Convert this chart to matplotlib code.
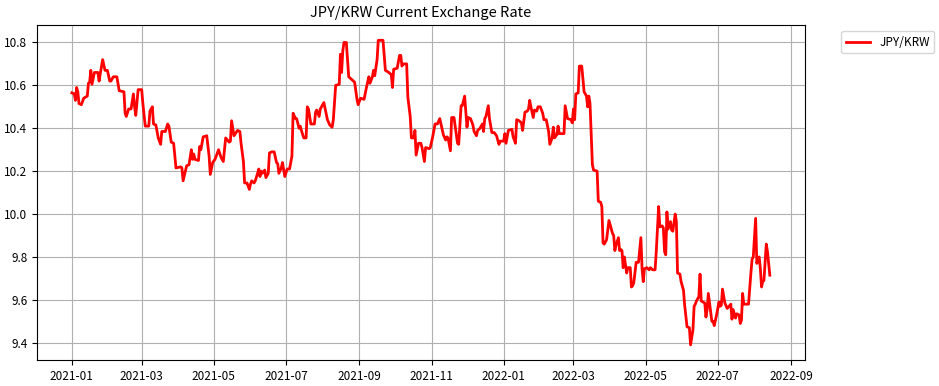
import pandas as pd
import matplotlib
matplotlib.use('Agg')
import matplotlib.pyplot as plt
import matplotlib.dates as mdates

plt.rcParams['font.family'] = ['Noto Sans CJK KR', 'DejaVu Sans']

# days after 2021-01-01
day_offsets = [
    0, 2, 3, 4, 5, 6, 8, 10, 13, 14, 15, 16, 17, 19, 22, 23, 24, 26, 28, 30,
    32, 33, 35, 38, 40, 44, 45, 46, 48, 50, 52, 53, 54, 56, 59, 60, 62, 65, 66, 68,
    69, 71, 73, 75, 76, 79, 81, 82, 84, 86, 88, 92, 93, 94, 97, 99, 101, 102, 103, 104,
    107, 108, 109, 111, 114, 116, 117, 119, 121, 124, 126, 128, 130, 133, 134, 135, 137, 140,
    142, 143, 145, 146, 148, 150, 151, 152, 154, 155, 157, 158, 159, 160, 161, 163, 164, 166,
    167, 169, 171, 173, 174, 175, 177, 178, 180, 182, 184, 186, 187, 189, 190, 192, 193, 194,
    196, 198, 199, 200, 202, 205, 206, 207, 209, 210, 211, 213, 216, 218, 220, 221, 223, 226,
    227, 228, 229, 230, 232, 234, 237, 239, 241, 242, 244, 247, 249, 251, 252, 254, 255, 256,
    258, 259, 263, 265, 268, 270, 271, 272, 275, 277,
    278, 279, 280, 283, 284, 286, 287, 289, 290, 291, 293, 295, 296, 298, 299, 302, 303, 305,
    307, 309, 311, 312, 314, 316, 317, 318, 320, 321, 323, 325, 326, 327, 329, 330, 332, 334,
    335, 337, 339, 340, 342, 343, 345, 347, 348, 349, 350, 352, 353, 355, 357, 359, 361, 362,
    365, 366, 367, 369, 372, 373, 375, 376, 378, 380, 381, 383, 385, 386, 387, 388, 390, 391,
    393, 394, 396, 398, 399, 401, 403, 404, 406, 407, 408, 410, 411, 412, 416, 417, 419, 422,
    423, 424,
    425, 426, 428, 429, 431, 433, 435, 436, 437, 438, 440, 441, 444, 445, 447, 448,
    449, 450, 452, 454, 455, 457, 458, 459, 460, 462, 463, 464, 465, 466, 467, 469, 470, 472,
    473, 474, 475, 477, 479, 481, 482, 483, 484, 486, 488, 489, 491, 493, 494, 496, 497, 499,
    500, 501, 502, 503, 504, 506, 507, 508, 510, 511, 512, 514, 515, 517, 518, 520, 522, 523,
    525, 526, 527, 528, 530, 531, 532, 535, 536, 537, 538, 540, 541, 542, 543, 545, 547, 548,
    549, 550, 552, 554, 557, 558, 559, 561, 562, 564, 565, 566, 567, 568, 572, 574, 575, 576,
    578, 579, 581, 582, 583, 584, 585, 587, 588, 590,
]

jpy_krw = [
    10.565, 10.56, 10.53, 10.59, 10.57, 10.515, 10.51, 10.54, 10.55, 10.61, 10.615, 10.67, 10.605, 10.66, 10.66, 10.62, 10.655, 10.72, 10.67, 10.67,
    10.62, 10.62, 10.64, 10.64, 10.575, 10.57, 10.47, 10.455, 10.49, 10.49, 10.56, 10.50, 10.46, 10.58, 10.58, 10.515, 10.41, 10.41, 10.48, 10.50,
    10.42, 10.415, 10.355, 10.325, 10.385, 10.385, 10.42, 10.41, 10.335, 10.33, 10.215, 10.22, 10.215, 10.155, 10.225, 10.23, 10.30, 10.255, 10.28, 10.255,
    10.25, 10.315, 10.30, 10.36, 10.365, 10.27, 10.185, 10.24, 10.255, 10.30, 10.265, 10.245, 10.355, 10.335, 10.34, 10.435, 10.365, 10.39,
    10.385, 10.33, 10.245, 10.145, 10.145, 10.115, 10.14, 10.155, 10.145, 10.155, 10.19, 10.21, 10.175, 10.20, 10.19, 10.205, 10.17, 10.19,
    10.285, 10.29, 10.29, 10.24, 10.235, 10.19, 10.215, 10.24, 10.175, 10.21, 10.21, 10.27, 10.47, 10.445, 10.445, 10.40, 10.41, 10.39,
    10.355, 10.355, 10.50, 10.49, 10.42, 10.42, 10.475, 10.485, 10.455, 10.49, 10.50, 10.52, 10.44, 10.415, 10.405, 10.44, 10.60, 10.605,
    10.745, 10.66, 10.76, 10.80, 10.80, 10.64, 10.625, 10.615, 10.535, 10.51, 10.54, 10.535, 10.59, 10.64, 10.61, 10.64, 10.67, 10.645,
    10.72, 10.81, 10.81, 10.67, 10.66, 10.65, 10.59, 10.675, 10.68, 10.74,
    10.74, 10.69, 10.70, 10.70, 10.545, 10.455, 10.355, 10.355, 10.39, 10.275, 10.33, 10.33, 10.31, 10.245, 10.31, 10.305, 10.31, 10.36,
    10.42, 10.42, 10.445, 10.42, 10.37, 10.345, 10.36, 10.355, 10.295, 10.45, 10.45, 10.37, 10.33, 10.325, 10.505, 10.505, 10.55, 10.405,
    10.45, 10.445, 10.415, 10.385, 10.365, 10.39, 10.40, 10.42, 10.385, 10.445, 10.455, 10.505, 10.445, 10.38, 10.38, 10.365, 10.325, 10.34,
    10.34, 10.375, 10.33, 10.39, 10.395, 10.36, 10.33, 10.44, 10.435, 10.425, 10.39, 10.475, 10.48, 10.49, 10.53, 10.50, 10.45, 10.485,
    10.48, 10.50, 10.50, 10.47, 10.44, 10.44, 10.385, 10.325, 10.355, 10.405, 10.355, 10.37, 10.41, 10.375, 10.375, 10.505, 10.445, 10.44,
    10.425, 10.49,
    10.44, 10.56, 10.565, 10.69, 10.69, 10.57, 10.55, 10.50, 10.55, 10.515, 10.23, 10.205, 10.20, 10.06, 10.055, 10.035,
    9.865, 9.86, 9.88, 9.97, 9.95, 9.91, 9.90, 9.83, 9.855, 9.89, 9.83, 9.835, 9.83, 9.75, 9.80, 9.725, 9.75, 9.75,
    9.66, 9.665, 9.68, 9.775, 9.775, 9.89, 9.745, 9.685, 9.745, 9.75, 9.74, 9.75, 9.74, 9.74, 9.825, 10.035, 9.94, 9.945,
    9.935, 9.825, 9.81, 10.01, 9.93, 9.965, 9.925, 9.92, 10.0, 9.965, 9.725, 9.72, 9.685, 9.645, 9.575, 9.475, 9.47, 9.39,
    9.46, 9.57, 9.58, 9.595, 9.615, 9.72, 9.595, 9.585, 9.52, 9.555, 9.63, 9.545, 9.50, 9.50, 9.48, 9.53, 9.59, 9.57,
    9.575, 9.65, 9.585, 9.56, 9.58, 9.51, 9.555, 9.515, 9.535, 9.53, 9.49, 9.505, 9.63, 9.58, 9.58, 9.725, 9.79, 9.80,
    9.98, 9.77, 9.80, 9.745, 9.66, 9.685, 9.69, 9.86, 9.825, 9.715,
]

dates = pd.Timestamp('2021-01-01') + pd.to_timedelta(day_offsets, unit='D')

fig = plt.figure(figsize=(9.39, 3.86), dpi=100)
ax = fig.add_axes([0.0394, 0.067, 0.8176, 0.868])

ax.plot(dates, jpy_krw, color='red', linewidth=2, label='JPY/KRW')

ax.xaxis.set_major_locator(mdates.MonthLocator(bymonth=[1, 3, 5, 7, 9, 11]))
ax.xaxis.set_major_formatter(mdates.DateFormatter('%Y-%m'))
ax.tick_params(labelsize=8.5)
ax.grid(True, color='#b0b0b0', linewidth=0.8)

ax.set_title('JPY/KRW Current Exchange Rate', fontsize=10.5)
ax.legend(loc='upper left', bbox_to_anchor=(1.04, 1.0), fontsize=8.5)

plt.savefig('out.png', dpi=100)
